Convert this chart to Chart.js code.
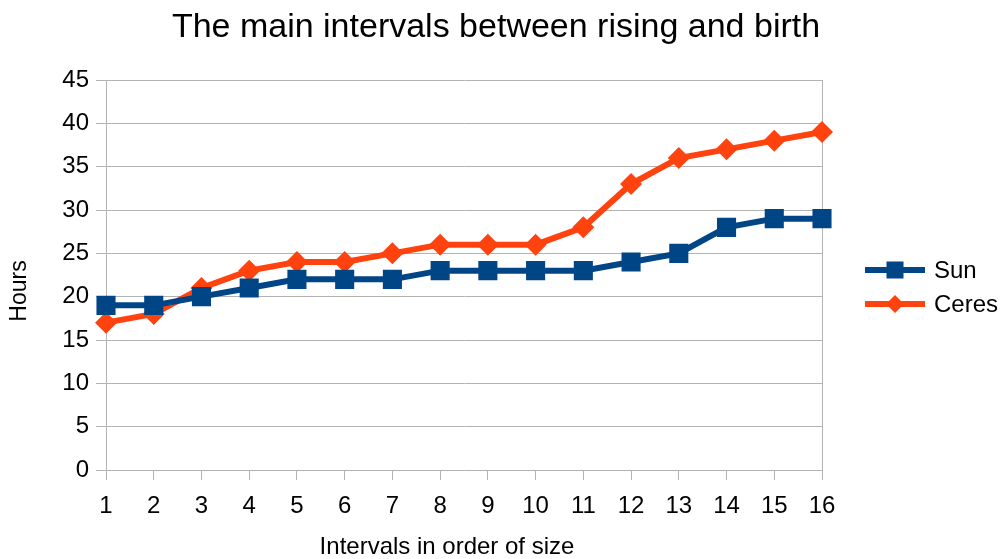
<!DOCTYPE html>
<html>
<head>
<meta charset="utf-8">
<title>The main intervals between rising and birth</title>
<script src="https://cdn.jsdelivr.net/npm/chart.js@4/dist/chart.umd.min.js"></script>
<style>
  html, body { margin: 0; padding: 0; background: #ffffff; }
  #wrap { width: 1003px; height: 559px; position: relative; }
</style>
</head>
<body>
<div id="wrap"><canvas id="chart" width="1003" height="559"></canvas></div>
<script>
const chartTitle = 'The main intervals between rising and birth';
const xAxisTitle = 'Intervals in order of size';
const yAxisTitle = 'Hours';

const intervals = ['1', '2', '3', '4', '5', '6', '7', '8', '9', '10', '11', '12', '13', '14', '15', '16'];
const sunHours = [19, 19, 20, 21, 22, 22, 22, 23, 23, 23, 23, 24, 25, 28, 29, 29];
const ceresHours = [17, 18, 21, 23, 24, 24, 25, 26, 26, 26, 28, 33, 36, 37, 38, 39];
const seriesNames = ['Sun', 'Ceres'];
const seriesColors = ['#004586', '#ff420e'];

const FONT = '"Liberation Sans", Arial, sans-serif';
const GRID = '#b3b3b3';

// Title, axis titles and the line-and-marker legend
const decorations = {
  id: 'decorations',
  afterDraw(chart) {
    const ctx = chart.ctx;
    ctx.save();
    ctx.fillStyle = '#000000';
    ctx.textBaseline = 'middle';

    ctx.font = '34px ' + FONT;
    ctx.textAlign = 'center';
    ctx.fillText(chartTitle, 496, 28);

    ctx.font = '24px ' + FONT;
    ctx.fillText(xAxisTitle, 447, 547);

    ctx.save();
    ctx.translate(20, 291);
    ctx.rotate(-Math.PI / 2);
    ctx.font = '23px ' + FONT;
    ctx.fillText(yAxisTitle, 0, 0);
    ctx.restore();

    // legend
    const rows = [270, 304];
    chart.data.datasets.forEach((ds, i) => {
      const y = rows[i];
      ctx.strokeStyle = ds.borderColor;
      ctx.lineWidth = 6;
      ctx.beginPath();
      ctx.moveTo(865, y);
      ctx.lineTo(925, y);
      ctx.stroke();
      ctx.fillStyle = ds.borderColor;
      if (ds.pointStyle === 'rect') {
        ctx.fillRect(895 - 8.5, y - 8.5, 17, 17);
      } else {
        ctx.beginPath();
        ctx.moveTo(895, y - 9);
        ctx.lineTo(904, y);
        ctx.lineTo(895, y + 9);
        ctx.lineTo(886, y);
        ctx.closePath();
        ctx.fill();
      }
      ctx.fillStyle = '#000000';
      ctx.textAlign = 'left';
      ctx.font = '24px ' + FONT;
      ctx.fillText(ds.label, 934, y + 1);
    });
    ctx.restore();
  }
};

new Chart(document.getElementById('chart'), {
  type: 'line',
  data: {
    labels: intervals,
    datasets: [
      {
        label: seriesNames[0],
        data: sunHours,
        borderColor: seriesColors[0],
        backgroundColor: seriesColors[0],
        borderWidth: 6,
        pointStyle: 'rect',
        pointRadius: 13.5,
        pointHoverRadius: 13.5,
        pointBorderWidth: 0,
        tension: 0
      },
      {
        label: seriesNames[1],
        data: ceresHours,
        borderColor: seriesColors[1],
        backgroundColor: seriesColors[1],
        borderWidth: 6,
        pointStyle: 'rectRot',
        pointRadius: 11,
        pointHoverRadius: 11,
        pointBorderWidth: 0,
        tension: 0
      }
    ]
  },
  options: {
    responsive: false,
    animation: false,
    events: [],
    layout: { padding: { left: 0, top: 80, right: 181, bottom: 0 } },
    plugins: {
      legend: { display: false },
      title: { display: false },
      tooltip: { enabled: false }
    },
    scales: {
      x: {
        type: 'category',
        offset: false,
        border: { display: false },
        grid: {
          drawOnChartArea: true,
          color: (c) => (c.index === intervals.length - 1 ? GRID : 'rgba(0,0,0,0)'),
          tickColor: GRID,
          tickLength: 10,
          lineWidth: 1
        },
        ticks: {
          color: '#000000',
          font: { family: FONT, size: 24 },
          padding: 12,
          maxRotation: 0,
          autoSkip: false
        },
        afterFit(scale) { scale.height = 89; }
      },
      y: {
        min: 0,
        max: 45,
        border: { display: true, color: GRID, width: 1 },
        grid: {
          color: GRID,
          tickColor: GRID,
          tickLength: 10,
          lineWidth: 1
        },
        ticks: {
          stepSize: 5,
          color: '#000000',
          font: { family: FONT, size: 24 },
          padding: 7
        },
        afterFit(scale) { scale.width = 106; }
      }
    }
  },
  plugins: [decorations]
});
</script>
</body>
</html>
